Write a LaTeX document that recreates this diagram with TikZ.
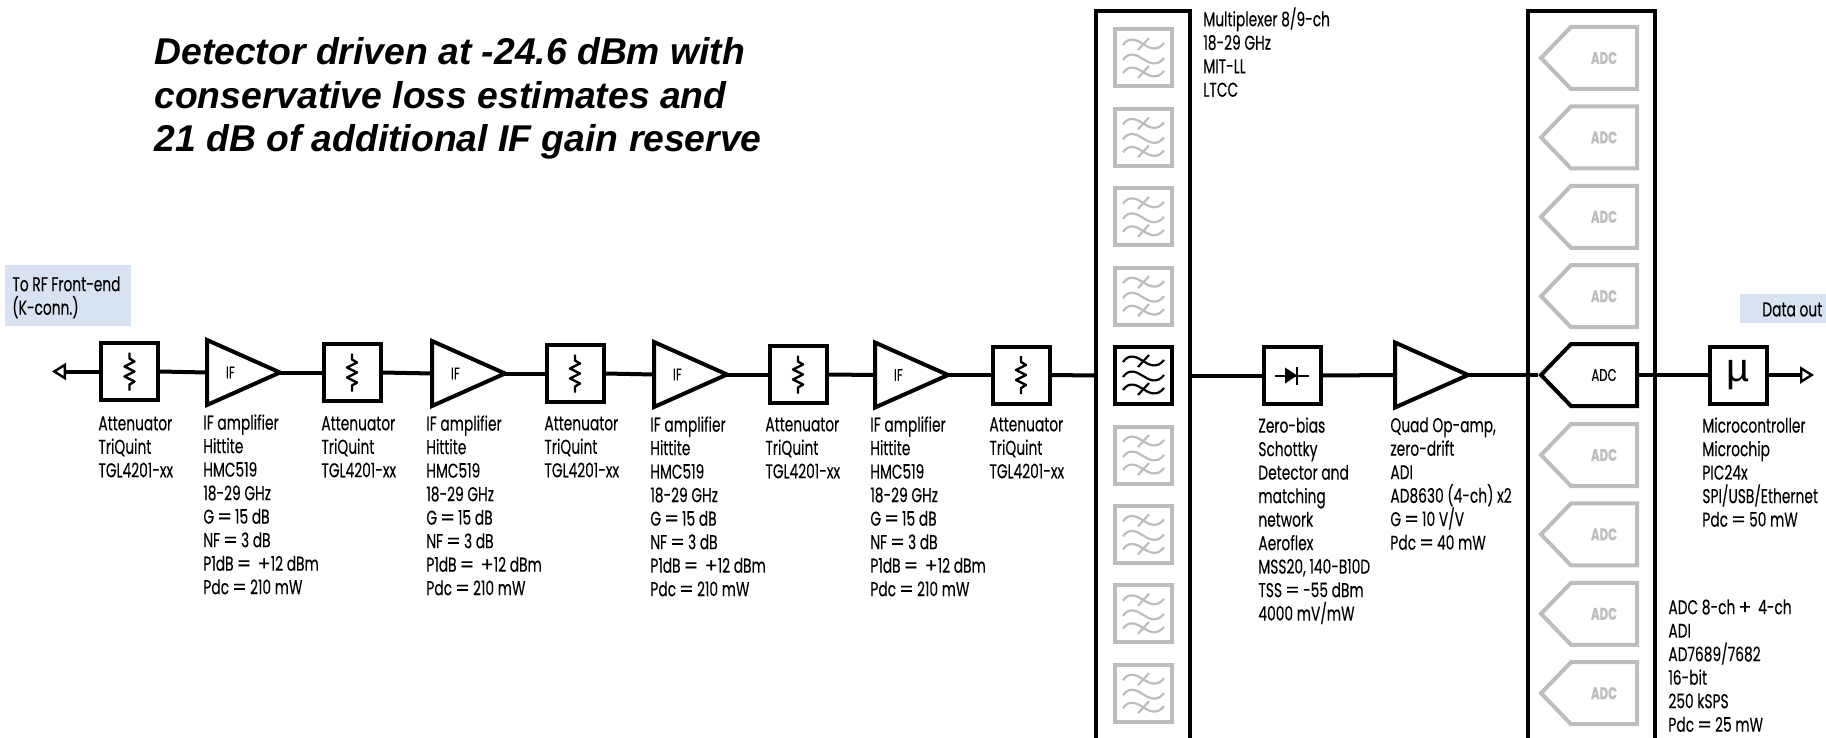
\documentclass[tikz,border=0pt]{standalone}
\usepackage{fontspec}
\usepackage{graphicx}
\usetikzlibrary{shapes.geometric,shapes.symbols,arrows.meta}
\setmainfont{Liberation Sans}
\newfontfamily\labelfont[FakeStretch=0.69,FakeBold=0.15]{Poppins}
\newcommand{\eqsign}{\hspace{1.5pt}\scalebox{1.5}[1]{=}\hspace{1.5pt}}
\newcommand{\plussign}{\hspace{1.5pt}\scalebox{1.4}[1]{+}}
\definecolor{labelblue}{HTML}{D9E2F3}
\definecolor{offgray}{HTML}{BDBDBD}
\tikzset{
    block/.style={draw=black,line width=2pt,inner sep=0pt,minimum width=28.5pt,minimum height=28.5pt},
    amp/.style={draw=black,line width=2pt,isosceles triangle,isosceles triangle apex angle=48,
        isosceles triangle stretches,inner sep=0pt,outer sep=0pt,minimum width=32.5pt,minimum height=36.5pt,
        anchor=lower side,font=\labelfont\fontsize{8.5}{9}\selectfont},
    adcblock/.style={draw=#1,text=#1,line width=2pt,signal,signal to=west,signal from=nowhere,signal pointer angle=92,
        inner sep=0pt,minimum width=48pt,minimum height=31pt,fill=white,
        font=\labelfont\fontsize{8.5}{9}\selectfont},
    rack/.style={draw=black,line width=2pt,inner sep=0pt,minimum height=364pt},
    link/.style={line width=2pt},
    portlink/.style={line width=2pt,-{Triangle[open,fill=white,length=7pt,width=8.5pt,line width=1.2pt]}},
    txt/.style={anchor=north west,inner sep=0pt,align=left,execute at begin node=\rule{0pt}{8pt},
        font=\labelfont\fontsize{10}{11.75}\selectfont},
    pics/wavy/.style={code={
        \foreach \w in {-14,1,14}
            \draw[line width=1.1pt,#1] (-20,\w+1) .. controls (-14,\w-8) and (-6,\w-4) .. (0,\w) .. controls (6,\w+4) and (14,\w+8) .. (21,\w-1);
        \draw[line width=1.1pt,#1] (-5,-8) -- (6,-20);
        \draw[line width=1.1pt,#1] (-5,20) -- (6,8);
    }},
    pics/zigzag/.style={code={
        \draw[line width=1.2pt,line join=round] (0,-19) -- (0,-13) -- (5,-10) -- (-5,-5) -- (5,0) -- (-5,5) -- (5,10) -- (0,13) -- (0,19);
    }},
}
\begin{document}
\begin{tikzpicture}[x=0.5pt,y=-0.5pt]
    \useasboundingbox (0,0) rectangle (1826,738);

    % Heading
    \node[anchor=north west,inner sep=0pt,align=left,font=\bfseries\itshape\fontsize{18.65}{21.8}\selectfont] (heading) at (154,37)
        {Detector driven at -24.6 dBm with\\conservative loss estimates and\\21 dB of additional IF gain reserve};

    % Tags
    \fill[labelblue] (5,265) rectangle (131,326);
    \fill[labelblue] (1740,294) rectangle (1826,323);
    \node[txt] (rftag) at (12,276) {To RF Front-end\\(K-conn.)};
    \node[txt] (outtag) at (1762,300) {Data out};

    % Attenuators
    \foreach \n/\x/\y in {1/129.5/371.5, 2/352/372.5, 3/575/373.5, 4/798/374.5, 5/1021/375} {
        \node[block] (att\n) at (\x,\y) {};
        \pic at (\x,\y) {zigzag};
    }

    % Amplifiers
    \foreach \n/\x/\y in {1/207/372.5, 2/432/373.5, 3/654/374.5, 4/875/375} {
        \node[amp] (amp\n) at (\x,\y) {\hspace{3pt}IF};
    }

    % Multiplexer
    \node[rack,minimum width=47pt] (mux) at (1143,375.5) {};
    \foreach \n in {1,2,3,4,6,7,8,9} {
        \pgfmathsetmacro{\y}{58+79.4*(\n-1)}
        \node[block,draw=offgray] (filt\n) at (1143,\y) {};
        \pic at (1143,\y) {wavy=offgray};
    }
    \node[block] (filt5) at (1143,375) {};
    \pic at (1143,375) {wavy=black};

    % Detector and op-amp
    \node[block] (det) at (1292.5,375.5) {};
    \draw[line width=1pt] (1275,375.5) -- (1309,375.5);
    \fill (1285,367.5) -- (1297,375.5) -- (1285,383.5) -- cycle;
    \draw[line width=1pt] (1297,366.5) -- (1297,384.5);
    \node[amp] (opamp) at (1395,375) {};

    % ADC bank
    \node[rack,minimum width=63.5pt] (adcs) at (1591,375.5) {};
    \foreach \n in {1,2,3,4,6,7,8,9} {
        \pgfmathsetmacro{\y}{58+79.4*(\n-1)}
        \node[adcblock=offgray] (adc\n) at (1604,\y) {\bfseries ADC};
    }
    \node[adcblock=black] (adc5) at (1604,375) {ADC};

    % Microcontroller
    \node[block,font=\fontsize{20}{20}\selectfont] (mcu) at (1738,375) {µ};

    % Ports
    \coordinate (portin) at (52,371.5);
    \coordinate (portout) at (1814,375);

    % Chain
    \draw[portlink] (att1.west) -- (portin);
    \draw[link] (att1.east) -- (amp1.lower side);
    \draw[link] (amp1.apex) -- (att2.west);
    \draw[link] (att2.east) -- (amp2.lower side);
    \draw[link] (amp2.apex) -- (att3.west);
    \draw[link] (att3.east) -- (amp3.lower side);
    \draw[link] (amp3.apex) -- (att4.west);
    \draw[link] (att4.east) -- (amp4.lower side);
    \draw[link] (amp4.apex) -- (att5.west);
    \draw[link] (att5.east) -- (mux.west);
    \draw[link] (mux.east) -- (det.west);
    \draw[link] (det.east) -- (opamp.lower side);
    \draw[link] (opamp.apex) -- (adc5.west);
    \draw[link] (adc5.east) -- (mcu.west);
    \draw[portlink] (mcu.east) -- (portout);

    % Labels
    \foreach \n/\x/\y in {1/98/416, 2/321/416, 3/544/416, 4/765/417, 5/989/417}
        \node[txt] (attlabel\n) at (\x,\y) {Attenuator\\TriQuint\\TGL4201-xx};
    \foreach \n/\x/\y in {1/203/414, 2/426/415, 3/650/416, 4/870/416}
        \node[txt] (amplabel\n) at (\x,\y) {IF amplifier\\Hittite\\HMC519\\18-29 GHz\\G\eqsign 15 dB\\NF\eqsign 3 dB\\P1dB\eqsign\plussign 12 dBm\\Pdc\eqsign 210 mW};
    \node[txt] (muxlabel) at (1203,7) {Multiplexer 8/9-ch\\18-29 GHz\\MIT-LL\\LTCC};
    \node[txt] (detlabel) at (1258,417) {Zero-bias\\Schottky\\Detector and\\matching\\network\\Aeroflex\\MSS20, 140-B10D\\TSS\eqsign -55 dBm\\4000 mV/mW};
    \node[txt] (opamplabel) at (1390,417) {Quad Op-amp,\\zero-drift\\ADI\\AD8630 (4-ch) x2\\G\eqsign 10 V/V\\Pdc\eqsign 40 mW};
    \node[txt] (mculabel) at (1702,417) {Microcontroller\\Microchip\\PIC24x\\SPI/USB/Ethernet\\Pdc\eqsign 50 mW};
    \node[txt] (adclabel) at (1668,599) {ADC 8-ch\plussign\hspace{1.5pt} 4-ch\\ADI\\AD7689/7682\\16-bit\\250 kSPS\\Pdc\eqsign 25 mW};
\end{tikzpicture}
\end{document}
